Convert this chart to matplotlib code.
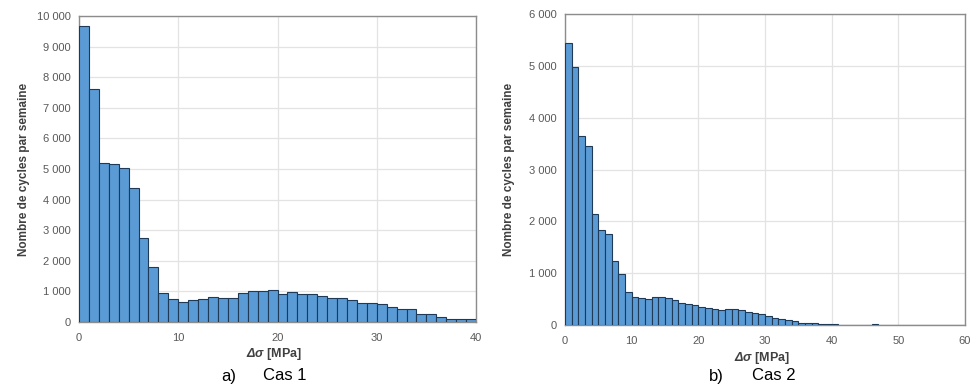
import matplotlib.pyplot as plt
from matplotlib.ticker import FuncFormatter, MultipleLocator

plt.rcParams['font.family'] = ['Liberation Sans', 'DejaVu Sans']
# bold italic for the delta sigma symbol of the x label
plt.rcParams['mathtext.fontset'] = 'custom'
plt.rcParams['mathtext.rm'] = 'Liberation Sans:italic:bold'
plt.rcParams['mathtext.it'] = 'Liberation Sans:italic:bold'
plt.rcParams['mathtext.bf'] = 'Liberation Sans:italic:bold'

# Cas 1 : histogram, bins of 1 MPa from 0 to 40
cas1_counts = [9660, 7630, 5185, 5175, 5020, 4370, 2750, 1805, 957, 750,
               663, 707, 750, 826, 783, 772, 957, 1011, 1011, 1050,
               924, 967, 902, 902, 837, 783, 772, 728, 630, 630,
               576, 478, 435, 424, 250, 250, 152, 109, 109, 98]

# Cas 2 : histogram, bins of 1 MPa from 0 to 60
cas2_counts = [5437, 4968, 3650, 3451, 2147, 1832, 1761, 1240, 983, 636,
               546, 527, 508, 540, 546, 520, 482, 424, 405, 386,
               355, 329, 310, 290, 303, 310, 290, 258, 232, 206,
               168, 142, 116, 90, 71, 45, 45, 39, 26, 19,
               13, 8, 8, 8, 2, 2, 15, 5, 0, 0,
               0, 0, 0, 0, 0, 0, 0, 0, 0, 0]

letters = ['a)', 'b)']
cases = ['Cas 1', 'Cas 2']

bar_color = '#5B9BD5'
edge_color = '#1F3A57'
grid_color = '#E3E3E3'
spine_color = '#8C8C8C'
tick_color = '#595959'


def thousands(v, pos):
    return '{:,.0f}'.format(v).replace(',', ' ')


fig = plt.figure(figsize=(9.77, 3.87), dpi=100)
ax1 = fig.add_axes([79 / 977, 1 - 322 / 387, 397 / 977, 306 / 387])
ax2 = fig.add_axes([565 / 977, 1 - 325 / 387, 400 / 977, 311 / 387])

for ax, counts, xmax, ymax in [(ax1, cas1_counts, 40, 10000),
                               (ax2, cas2_counts, 60, 6000)]:
    lefts = list(range(len(counts)))
    ax.bar(lefts, counts, width=1, align='edge', color=bar_color,
           edgecolor=edge_color, linewidth=0.8, zorder=3)
    ax.set_xlim(0, xmax)
    ax.set_ylim(0, ymax)
    ax.xaxis.set_major_locator(MultipleLocator(10))
    ax.yaxis.set_major_locator(MultipleLocator(1000))
    ax.yaxis.set_major_formatter(FuncFormatter(thousands))
    ax.grid(True, color=grid_color, linewidth=0.9, zorder=0)
    ax.tick_params(length=0, labelsize=8, labelcolor=tick_color, pad=6)
    ax.tick_params(axis='x', pad=8)
    for s in ax.spines.values():
        s.set_color(spine_color)
        s.set_linewidth(1.0)
    ax.set_ylabel('Nombre de cycles par semaine', fontsize=8.5, fontweight='bold',
                  color='#404040')
    ax.set_xlabel(r'$\Delta\sigma$ [MPa]', fontsize=9, fontweight='bold',
                  color='#404040')
    ax.yaxis.set_label_coords(-0.124, 0.5)
    ax.xaxis.set_label_coords(0.492, -0.08)

fig.text(229 / 977, 1 - 376 / 387, letters[0], fontsize=12, ha='center', va='center')
fig.text(285 / 977, 1 - 376 / 387, cases[0], fontsize=12, ha='center', va='center')
fig.text(716 / 977, 1 - 376 / 387, letters[1], fontsize=12, ha='center', va='center')
fig.text(774 / 977, 1 - 376 / 387, cases[1], fontsize=12, ha='center', va='center')

plt.savefig('out.png', dpi=100)
